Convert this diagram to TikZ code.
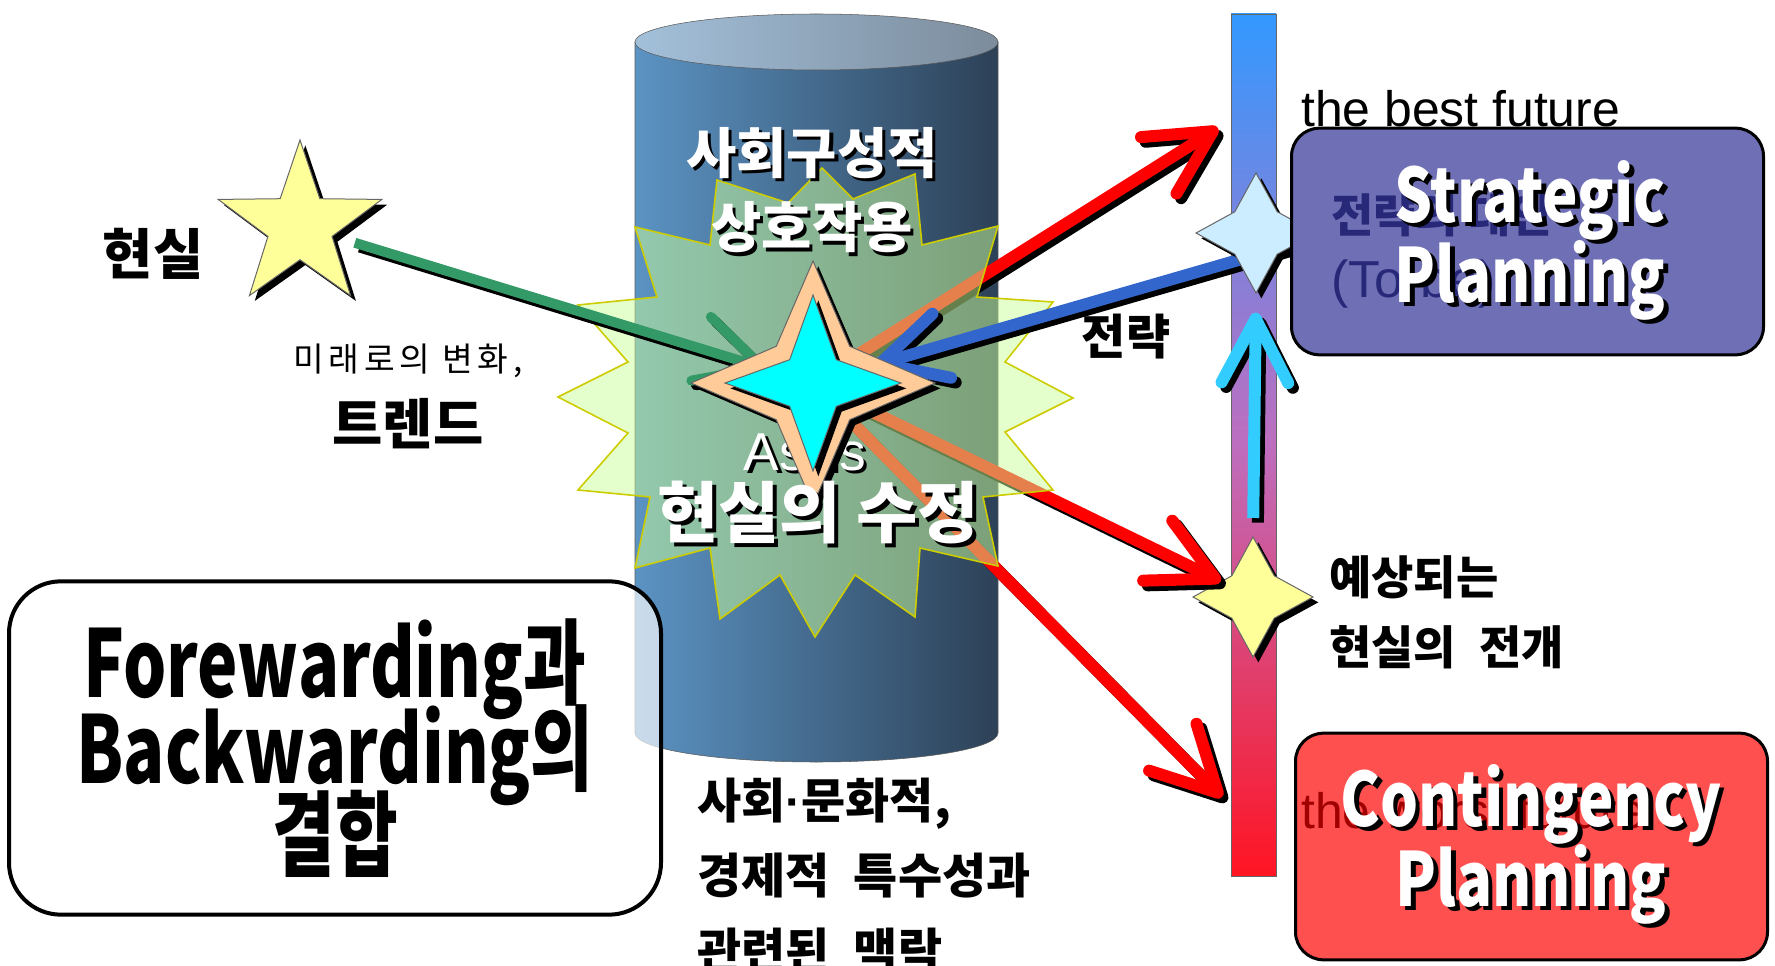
\documentclass[tikz,border=0pt]{standalone}
\usepackage{fontspec}
\usetikzlibrary{arrows.meta,shapes.geometric,shadows}
\setmainfont{Noto Sans CJK KR}
\newfontfamily\widefont{Noto Sans CJK KR}[WordSpace=2.2]
\newfontfamily\headfont{Noto Sans CJK KR}[FakeStretch=0.8]
\newfontfamily\fwdfont{Noto Sans CJK KR}[FakeStretch=0.73]
\newfontfamily\arialfont{Liberation Sans}
% text with a black drop shadow
\newcommand{\shtxt}[1]{\leavevmode\rlap{\raisebox{-0.06em}[0pt][0pt]{\hspace{0.06em}\color{black}#1}}#1}
\newcommand{\tightlines}{\lineskiplimit=-100pt\relax\lineskip=0pt\relax}

\definecolor{cylleft}{RGB}{91,147,195}
\definecolor{cylright}{RGB}{45,65,87}
\definecolor{capleft}{RGB}{163,192,218}
\definecolor{capright}{RGB}{124,140,156}
\definecolor{cylline}{RGB}{90,90,90}
\definecolor{bartop}{RGB}{51,153,255}
\definecolor{barmid}{RGB}{190,110,190}
\definecolor{barbot}{RGB}{255,20,35}
\definecolor{starline}{RGB}{102,102,102}
\definecolor{planstar}{RGB}{204,236,255}
\definecolor{realstar}{RGB}{255,255,153}
\definecolor{peach}{RGB}{255,204,153}
\definecolor{asiscyan}{RGB}{0,255,255}
\definecolor{burstfill}{RGB}{204,255,153}
\definecolor{burstline}{RGB}{204,204,0}
\definecolor{greenarrow}{RGB}{51,153,102}
\definecolor{bluearrow}{RGB}{51,102,204}
\definecolor{cyanarrow}{RGB}{51,204,255}
\definecolor{stratfill}{RGB}{111,111,181}
\definecolor{contfill}{RGB}{255,80,80}
\definecolor{altnavy}{RGB}{40,40,120}
\definecolor{worstred}{RGB}{160,0,0}

\begin{document}
\begin{tikzpicture}[x=0.75pt,y=0.75pt,yscale=-1,xscale=1,
	shdw/.style={drop shadow={opacity=1,fill=black,shadow xshift=4pt,shadow yshift=-4pt}},
	starnode/.style={star,draw=starline,line width=0.75pt,inner sep=0pt,shdw},
	fatarrow/.style={line width=9pt,-{Straight Barb[length=48pt,width=50pt,round]}},
	arrowshadow/.style={draw=black,transform canvas={xshift=3.5pt,yshift=-3.5pt}},
	planbox/.style={rectangle,rounded corners=21pt,draw=black,line width=2.25pt,minimum width=354pt,minimum height=170pt,inner sep=0pt},
	wtitle/.style={text=white,inner sep=0pt,align=center,font=\headfont\bfseries\fontsize{56}{60}\selectfont},
	klabel/.style={text=black,inner sep=0pt,align=left,font=\widefont\bfseries\fontsize{34.5}{52.5}\selectfont}]
	
	\useasboundingbox (0,0) rectangle (1775,966);
	
	%Shape: Can
	\draw [draw=cylline,left color=cylleft,right color=cylright] (635,42) -- (635,733) arc [start angle=180,end angle=0,x radius=181.5,y radius=29] -- (998,42) -- cycle ;
	\draw [draw=cylline,left color=capleft,right color=capright] (816.5,42) ellipse [x radius=181.5,y radius=28] ;
	
	%Shape: Time bar
	\draw [draw=starline,top color=bartop,bottom color=barbot,middle color=barmid] (1231,14) rectangle (1276,876) ;
	\node [starnode,star points=4,star point ratio=2,minimum size=90pt,fill=realstar] (expect) at (1253,597) {};
	
	\coordinate (asisc) at (813,383);
	\coordinate (realc) at (300,226);
	\coordinate (bestpt) at (1218,128);
	\coordinate (worstpt) at (1222,797);
	\coordinate (bstart) at (1318,237);
	
	%Straight Lines
	\draw [fatarrow,arrowshadow] (asisc) -- (bestpt) ;
	\draw [fatarrow,draw=red] (asisc) -- (bestpt) ;
	\draw [fatarrow,arrowshadow] (asisc) -- (expect) ;
	\draw [fatarrow,draw=red] (asisc) -- (expect) ;
	\draw [fatarrow,arrowshadow] (asisc) -- (worstpt) ;
	\draw [fatarrow,draw=red] (asisc) -- (worstpt) ;
	
	%Shape: Explosion
	\draw [draw=burstline,fill=burstfill,fill opacity=0.5,line width=1.2pt] (635,227) -- (710,245) -- (717,180) -- (788,203) -- (822,168) -- (853,199) -- (915,174) -- (922,245) -- (998,226) -- (977,297) -- (1053,302) -- (1005,362) -- (1073,398) -- (1005,432) -- (1053,490) -- (983,497) -- (998,566) -- (920,548) -- (915,617) -- (855,575) -- (815,637) -- (780,575) -- (720,619) -- (710,548) -- (635,568) -- (650,497) -- (578,490) -- (628,433) -- (558,397) -- (628,362) -- (578,305) -- (657,297) -- cycle ;
	
	%Straight Lines
	\draw [fatarrow,line width=7.5pt,arrowshadow,shorten <=43pt,shorten >=36pt] (realc) -- (asisc) ;
	\draw [fatarrow,line width=7.5pt,draw=greenarrow,shorten <=43pt,shorten >=36pt] (realc) -- (asisc) ;
	\draw [fatarrow,arrowshadow,shorten >=48pt] (bstart) -- (asisc) ;
	\draw [fatarrow,draw=bluearrow,shorten >=48pt] (bstart) -- (asisc) ;
	
	%Shape: Star
	\node [starnode,star points=5,star point ratio=2.55,minimum size=129pt,fill=realstar] (real) at (realc) {};
	\node [starnode,star points=4,star point ratio=2,minimum size=90pt,fill=planstar] (plan) at (1256,233) {};
	\draw [fatarrow,arrowshadow,shorten <=13.5pt,shorten >=14pt] (expect.north) -- (plan.south) ;
	\draw [fatarrow,draw=cyanarrow,shorten <=13.5pt,shorten >=14pt] (expect.north) -- (plan.south) ;
	
	% Text Node
	\node [text=white,inner sep=0pt,font=\arialfont\fontsize{40}{46}\selectfont] (asistxt) at (805,451) {\shtxt{As\hspace{0.4em}is}};
	\node [starnode,star points=4,star point ratio=2.35,minimum size=183pt,fill=peach] (asis) at (asisc) {};
	\node [starnode,star points=4,star point ratio=2.67,minimum size=132pt,fill=asiscyan] (asisin) at (asisc) {};
	
	% Text Node
	\node [inner sep=0pt,font=\bfseries\fontsize{41}{48}\selectfont] (realtxt) at (153,254) {현실};
	% Text Node
	\node [inner sep=0pt,font=\fontsize{25}{30}\selectfont\addfontfeatures{LetterSpace=14}] (trendsub) at (408,361) {미래로의 변화,};
	% Text Node
	\node [inner sep=0pt,font=\bfseries\fontsize{41}{48}\selectfont] (trendtxt) at (408,424) {트렌드};
	% Text Node
	\node [text=white,inner sep=0pt,align=center,font=\bfseries\fontsize{41}{56}\selectfont] (socialtxt) at (812,190) {\shtxt{사회구성적}\\\shtxt{상호작용}};
	% Text Node
	\node [text=white,inner sep=0pt,font=\bfseries\fontsize{50}{58}\selectfont] (fixtxt) at (818,512) {\shtxt{현실의 수정}};
	% Text Node
	\node [inner sep=0pt,font=\bfseries\fontsize{36}{42}\selectfont] (strattxt) at (1126,337) {전략};
	% Text Node
	\node [anchor=base west,inner sep=0pt,font=\arialfont\fontsize{37.4}{44}\selectfont] (besttxt) at (1301,127) {the best future};
	
	%Rounded Rect
	\node [planbox,fill=stratfill] (strat) at (1527.5,241.5) {};
	\node [anchor=west,inner sep=0pt,text=altnavy,font=\bfseries\fontsize{34.5}{40}\selectfont] (alttxt) at (1331,215) {전략의 대안};
	\node [anchor=west,inner sep=0pt,text=altnavy,font=\arialfont\fontsize{39}{45}\selectfont] (tobetxt) at (1331,284) {(To-be)};
	\node [wtitle] (strattitle) at (1530,240) {\shtxt{Strategic}\\\shtxt{Planning}};
	
	% Text Node
	\node [klabel,anchor=west] (expecttxt) at (1329,612) {예상되는\\현실의 전개};
	
	%Rounded Rect
	\node [planbox,fill=contfill] (cont) at (1531.5,846.5) {};
	\node [anchor=base west,inner sep=0pt,text=worstred,font=\arialfont\fontsize{37.4}{44}\selectfont] (worsttxt) at (1301,828) {the worst future};
	\node [wtitle] (conttitle) at (1531,844) {\shtxt{Contingency}\\\shtxt{Planning}};
	
	%Rounded Rect
	\node [rectangle,rounded corners=39pt,draw=black,line width=3pt,fill=white,fill opacity=0.67,text opacity=1,minimum width=489pt,minimum height=250pt,inner sep=0pt,align=center,font=\fwdfont\bfseries\fontsize{70}{64.5}\selectfont\tightlines] (fwd) at (335,748) {Forewarding과\\Backwarding의\\결합};
	
	% Text Node
	\node [klabel,anchor=north west,font=\widefont\bfseries\fontsize{36}{56}\selectfont] (contexttxt) at (697,778) {사회{\arialfont·}문화적,\\경제적 특수성과\\관련된 맥락};
	
\end{tikzpicture}
\end{document}
